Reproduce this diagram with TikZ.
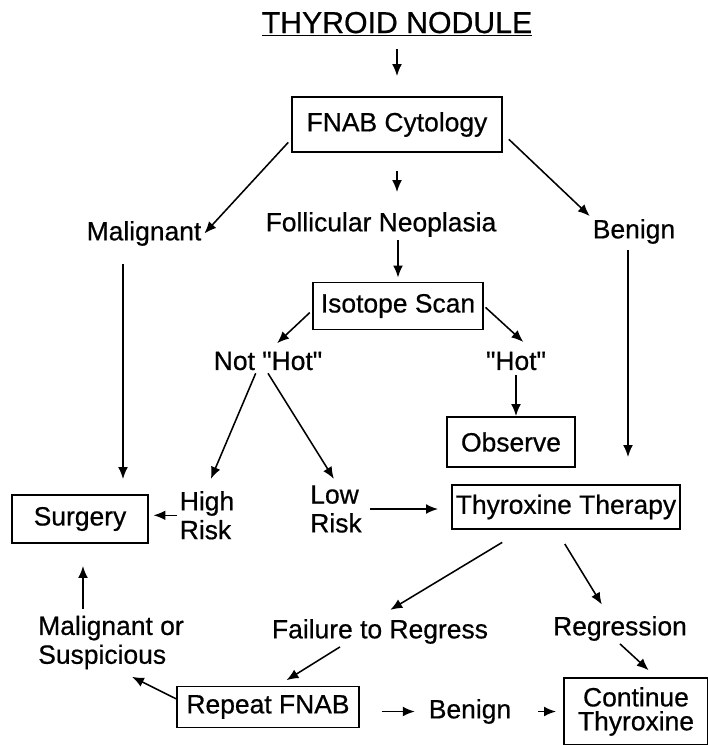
\documentclass[tikz,border=0pt]{standalone}
\usepackage{fontspec}
\setmainfont{Liberation Sans}[FakeBold=0.6]
\usetikzlibrary{arrows.meta}

\begin{document}
\begin{tikzpicture}[x=0.025cm,y=-0.025cm]
	\tikzstyle{box}=[draw,line width=1.4pt,inner sep=0pt,font=\fontsize{18.8}{20.5}\selectfont]
	\tikzstyle{lbl}=[inner sep=2pt,align=left,font=\fontsize{18.8}{20.5}\selectfont]
	\tikzstyle{arr}=[-{Latex[length=8.5pt,width=7pt]},line width=1.1pt]
	\useasboundingbox (0,0) rectangle (708,745);
	% boxes
	\node (title) [anchor=base,inner sep=2pt,font=\fontsize{21.5}{24}\selectfont] at (397,33) {\underline{THYROID NODULE}};
	\node (fnab) [box,minimum width=5.25cm,minimum height=1.375cm] at (397,124.5) {FNAB Cytology};
	\node (iso) [box,minimum width=4.25cm,minimum height=1.175cm] at (398,306) {Isotope Scan};
	\node (observe) [box,minimum width=3.2cm,minimum height=1.25cm] at (511,442) {Observe};
	\node (surgery) [box,minimum width=3.375cm,minimum height=1.2cm] at (80,519) {Surgery};
	\node (thyrox) [box,minimum width=5.7cm,minimum height=1.1cm] at (566,507) {Thyroxine Therapy};
	\node (repeat) [box,minimum width=4.525cm,minimum height=1.025cm] at (268,707) {Repeat FNAB};
	\node (cont) [box,minimum width=3.6cm,minimum height=1.675cm,align=center,font=\fontsize{18.8}{17}\selectfont] at (636,711.5) {Continue\\Thyroxine};
	% labels
	\node (malig) [lbl] at (144,233.5) {Malignant};
	\node (follic) [lbl] at (381,224.5) {Follicular Neoplasia};
	\node (benign1) [lbl] at (634,231.5) {Benign};
	\node (nothot) [lbl] at (268,361) {Not \textquotedbl Hot\textquotedbl};
	\node (hot) [lbl] at (516,361) {\textquotedbl Hot\textquotedbl};
	\node (high) [lbl] at (207,515.3) {High\\Risk};
	\node (low) [lbl] at (336,509) {Low\\Risk};
	\node (malor) [lbl] at (111,642.5) {Malignant or\\Suspicious};
	\node (failure) [lbl] at (380,631.5) {Failure to Regress};
	\node (regress) [lbl] at (620,628.5) {Regression};
	\node (benign2) [lbl] at (470,711.5) {Benign};
	% drop points
	\coordinate (mdrop) at ([xshift=-0.525cm]malig.south);
	\coordinate (bdrop) at ([xshift=-0.15cm]benign1.south);
	\coordinate (mrise) at ([xshift=-0.7cm]malor.north);
	% arrows
	\draw[arr,shorten <=0.25cm,shorten >=0.5cm] (title.south) -- (fnab.north);
	\draw[arr,shorten <=0.1cm] (fnab.188) -- (malig.east);
	\draw[arr,shorten <=0.2cm] (fnab.355) -- (benign1.north west);
	\draw[arr,shorten <=0.45cm,shorten >=0.425cm] (fnab.south) -- (fnab.south |- follic.north);
	\draw[arr,shorten >=0.1cm] (iso.north |- follic.south) -- (iso.north);
	\draw[arr,shorten <=0.075cm,shorten >=0.2cm] (iso.183) -- (nothot.75);
	\draw[arr,shorten <=0.05cm,shorten >=0.25cm] (iso.east) -- (hot.40);
	\draw[arr,shorten <=0.05cm] (hot.south) -- (hot.south |- observe.north);
	\draw[arr,shorten >=0.25cm] (nothot.225) -- (high.north);
	\draw[arr,shorten >=0.1cm] (nothot.south) -- (low.north);
	\draw[arr,shorten <=0.375cm,shorten >=0.375cm] (mdrop) -- (mdrop |- surgery.north);
	\draw[arr,shorten <=0.075cm,shorten >=0.675cm] (bdrop) -- (bdrop |- thyrox.north);
	\draw[arr,shorten >=0.125cm] (high.west) -- (high.west -| surgery.east);
	\draw[arr,shorten <=0.125cm,shorten >=0.325cm] (low.east) -- (low.east -| thyrox.west);
	\draw[arr,shorten <=0.6cm,shorten >=0.3cm] (thyrox.208) -- (failure.north);
	\draw[arr,shorten <=0.41cm,shorten >=0.25cm] (thyrox.247) -- (regress.130);
	\draw[arr,shorten >=0.25cm] ([xshift=-1cm]failure.south) -- ([xshift=0.25cm]repeat.north);
	\draw[arr,shorten >=0.25cm] (regress.south) -- ([xshift=0.5cm]cont.north);
	\draw[arr,shorten >=0.25cm] (repeat.175) -- ([xshift=0.3cm]malor.south);
	\draw[arr,shorten <=0.1cm,shorten >=0.55cm] (mrise) -- (mrise |- surgery.south);
	\draw[arr,shorten <=0.55cm,shorten >=0.275cm] (repeat.east |- benign2.west) -- (benign2.west);
	\draw[arr,shorten <=0.6cm,shorten >=0.175cm] (benign2.east) -- (benign2.east -| cont.west);
\end{tikzpicture}
\end{document}
